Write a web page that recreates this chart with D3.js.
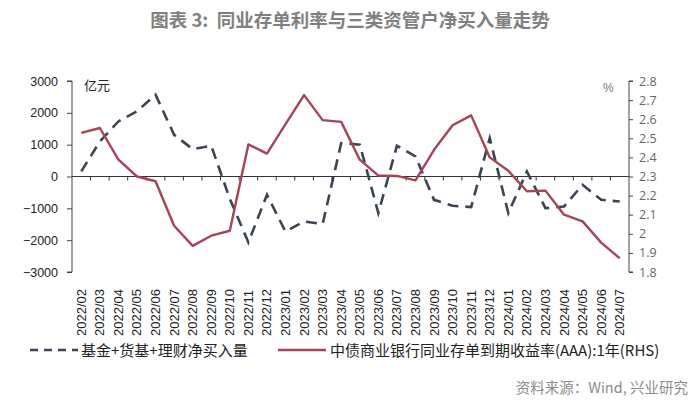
<!DOCTYPE html>
<html>
<head>
<meta charset="utf-8">
<script src="https://cdn.jsdelivr.net/npm/d3@7"></script>
<style>
  body { margin: 0; background: #fff; }
  svg { font-family: "Liberation Sans", Arial, sans-serif; }
</style>
</head>
<body>
<div id="chart"></div>
<script>
// data
var months = ["2022/02","2022/03","2022/04","2022/05","2022/06","2022/07","2022/08","2022/09","2022/10","2022/11",
  "2022/12","2023/01","2023/02","2023/03","2023/04","2023/05","2023/06","2023/07","2023/08","2023/09",
  "2023/10","2023/11","2023/12","2024/01","2024/02","2024/03","2024/04","2024/05","2024/06","2024/07"];
var netBuy = [160, 1100, 1730, 2045, 2570, 1310, 860, 965, -700, -2070,
  -575, -1730, -1415, -1490, 1050, 1000, -1150, 965, 630, -733,
  -920, -960, 1207, -1150, 157, -995, -943, -260, -733, -785];
var rate = [2.528, 2.554, 2.388, 2.30, 2.275, 2.042, 1.937, 1.99, 2.016, 2.468,
  2.42, 2.574, 2.726, 2.595, 2.586, 2.388, 2.305, 2.303, 2.28, 2.44,
  2.568, 2.62, 2.40, 2.33, 2.223, 2.226, 2.10, 2.065, 1.954, 1.872];
var leftTicks = [-3000, -2000, -1000, 0, 1000, 2000, 3000];
var rightTicks = [1.8, 1.9, 2, 2.1, 2.2, 2.3, 2.4, 2.5, 2.6, 2.7, 2.8];

var W = 700, H = 408;
var plotL = 72, plotR = 629, plotT = 81, plotB = 272;

var svg = d3.select("#chart").append("svg")
  .attr("width", W).attr("height", H);

var x = d3.scaleBand().domain(months).range([plotL, plotR]);
var yL = d3.scaleLinear().domain([-3000, 3000]).range([plotB, plotT]);
var yR = d3.scaleLinear().domain([1.8, 2.8]).range([plotB, plotT]);

// title
svg.append("text")
  .attr("x", 350).attr("y", 27)
  .attr("text-anchor", "middle")
  .attr("fill", "#808080")
  .attr("font-family", "'Noto Sans CJK SC', sans-serif")
  .attr("font-weight", "bold")
  .attr("font-size", "18.5px")
  .attr("xml:space", "preserve")
  .text("图表 3:  同业存单利率与三类资管户净买入量走势");

// left axis
var axL = svg.append("g")
  .attr("transform", "translate(" + plotL + ",0)")
  .call(d3.axisLeft(yL).tickValues(leftTicks).tickSize(5).tickFormat(d3.format("d")));
axL.select(".domain").attr("stroke", "#444").attr("d", "M-5," + yL(-3000) + "H0V" + yL(3000) + "H-5");
axL.selectAll(".tick line").attr("stroke", "#444");
axL.selectAll("text").attr("font-size", "12.5px").attr("fill", "#222").attr("x", -14);

// right axis
var axR = svg.append("g")
  .attr("transform", "translate(" + plotR + ",0)")
  .call(d3.axisRight(yR).tickValues(rightTicks).tickSize(4).tickFormat(d3.format("")));
axR.select(".domain").attr("stroke", "#444").attr("d", "M4," + yR(1.8) + "H0V" + yR(2.8) + "H4");
axR.selectAll(".tick line").attr("stroke", "#444");
axR.selectAll("text").attr("font-size", "12.5px").attr("fill", "#666").attr("x", 10)
  .attr("font-family", "'Open Sans', sans-serif");

// zero line with ticks at band edges
var zeroY = yL(0);
svg.append("line")
  .attr("x1", plotL).attr("x2", plotR)
  .attr("y1", zeroY).attr("y2", zeroY)
  .attr("stroke", "#333").attr("stroke-width", 1);
svg.selectAll(".xtick")
  .data(months.slice(1))
  .join("line")
  .attr("class", "xtick")
  .attr("x1", d => x(d)).attr("x2", d => x(d))
  .attr("y1", zeroY).attr("y2", zeroY + 4)
  .attr("stroke", "#333");

// x labels, rotated
svg.selectAll(".xlab")
  .data(months)
  .join("text")
  .attr("class", "xlab")
  .attr("transform", d => "translate(" + (x(d) + x.bandwidth() / 2 + 4.5) + ",336) rotate(-90)")
  .attr("font-size", "13px")
  .attr("fill", "#222")
  .text(d => d);

// units
svg.append("text").attr("x", 84).attr("y", 90)
  .attr("font-size", "13px").attr("fill", "#222")
  .attr("font-family", "'Noto Sans CJK SC', sans-serif")
  .text("亿元");
svg.append("text").attr("x", 603).attr("y", 92)
  .attr("font-size", "12px").attr("fill", "#777")
  .text("%");

var cx = d => x(d) + x.bandwidth() / 2;

// dashed net buy line
svg.append("path")
  .datum(months)
  .attr("fill", "none")
  .attr("stroke", "#3b4452")
  .attr("stroke-width", 2.6)
  .attr("stroke-dasharray", "11,7")
  .attr("d", d3.line().x(d => cx(d)).y((d, i) => yL(netBuy[i])));

// rate line
svg.append("path")
  .datum(months)
  .attr("fill", "none")
  .attr("stroke", "#a64457")
  .attr("stroke-width", 2.4)
  .attr("stroke-linejoin", "round")
  .attr("d", d3.line().x(d => cx(d)).y((d, i) => yR(rate[i])));

// legend
var lg = svg.append("g").attr("font-family", "'Noto Sans CJK SC', sans-serif").attr("font-size", "15px").attr("fill", "#222");
lg.append("line").attr("x1", 30).attr("x2", 78).attr("y1", 350).attr("y2", 350)
  .attr("stroke", "#3b4452").attr("stroke-width", 2.6).attr("stroke-dasharray", "8,6");
lg.append("text").attr("x", 81).attr("y", 355.5).text("基金+货基+理财净买入量");
lg.append("line").attr("x1", 278).attr("x2", 326).attr("y1", 350).attr("y2", 350)
  .attr("stroke", "#a64457").attr("stroke-width", 2.4);
lg.append("text").attr("x", 330).attr("y", 355.5).text("中债商业银行同业存单到期收益率(AAA):1年(RHS)");

// source
svg.append("text")
  .attr("x", 688).attr("y", 393)
  .attr("text-anchor", "end")
  .attr("font-family", "'Noto Sans CJK SC', sans-serif")
  .attr("font-size", "14.5px").attr("fill", "#8c8c8c")
  .text("资料来源：Wind, 兴业研究");
</script>
</body>
</html>
